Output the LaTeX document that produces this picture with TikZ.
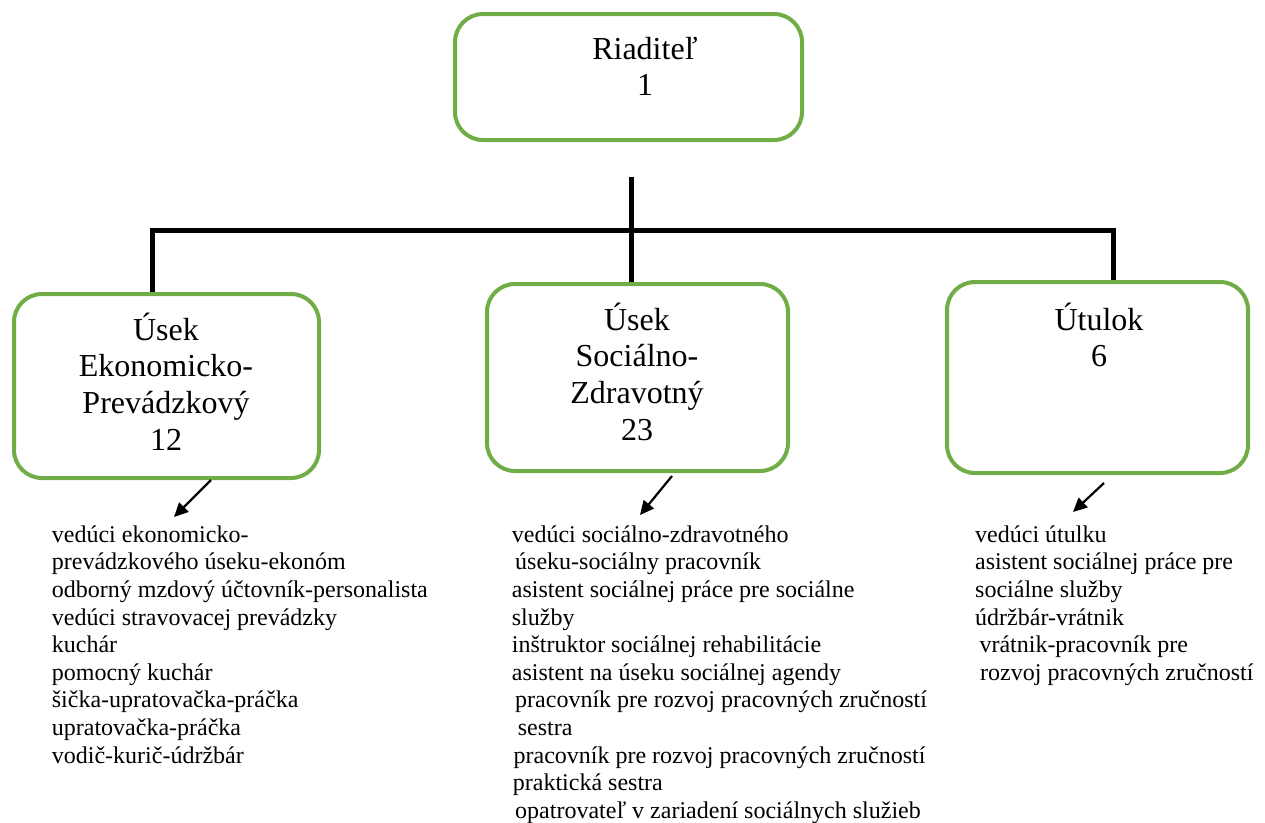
\documentclass[tikz,border=0pt]{standalone}
\usepackage{fontspec}
\setmainfont{Liberation Serif}
\usetikzlibrary{arrows.meta}
\definecolor{boxgreen}{RGB}{112,173,71}
\tikzset{
  orgbox/.style={draw=boxgreen, line width=4pt, rounded corners=28pt, inner sep=0pt, fill=none},
  boxtext/.style={anchor=north, inner sep=0pt, align=center, font=\fontsize{32}{36.7}\selectfont},
  listtext/.style={anchor=north west, inner sep=0pt, align=left, font=\fontsize{24}{27.6}\selectfont},
  bar/.style={line width=5pt, black, line join=miter},
  pointer/.style={line width=2.2pt, black, -{Triangle[length=14pt,width=13pt]}}
}
\begin{document}
\begin{tikzpicture}[x=1pt,y=-1pt]
\useasboundingbox (0,0) rectangle (1265,822);
% boxes
\node[orgbox, minimum width=347pt, minimum height=126pt] (dir) at (628.5,77) {};
\node[orgbox, minimum width=305pt, minimum height=184pt] (eko) at (166.5,386) {};
\node[orgbox, minimum width=301pt, minimum height=187pt] (soc) at (637.5,377.5) {};
\node[orgbox, minimum width=301pt, minimum height=191pt] (utu) at (1097.5,377.5) {};
% box texts
\node[boxtext] (dirt) at (645,27) {\rule{0pt}{32pt}Riaditeľ\\1};
\node[boxtext] (ekot) at (166,308) {\rule{0pt}{32pt}Úsek\\Ekonomicko-\\Prevádzkový\\12};
\node[boxtext] (soct) at (637,298) {\rule{0pt}{32pt}Úsek\\Sociálno-\\Zdravotný\\23};
\node[boxtext] (utut) at (1099,298) {\rule{0pt}{32pt}Útulok\\6};
% connectors
\coordinate (trunk) at (631,177);
\coordinate (hl) at (152,230);
\coordinate (hr) at (1113,230);
\draw[bar] (trunk) -- (trunk |- soc.north);
\draw[bar] (hl |- eko.north) -- (hl) -- (hr) -- (hr |- utu.north);
% lists
\node[listtext] (ekol) at (51.7,518) {\rule{0pt}{24pt}vedúci ekonomicko-\\
prevádzkového úseku-ekonóm\\
odborný mzdový účtovník-personalista\\
vedúci stravovacej prevádzky\\
kuchár\\
pomocný kuchár\\
šička-upratovačka-práčka\\
upratovačka-práčka\\
vodič-kurič-údržbár};
\node[listtext] (socl) at (511.7,518) {\rule{0pt}{24pt}vedúci sociálno-zdravotného\\
\hspace*{3.3pt}úseku-sociálny pracovník\\
asistent sociálnej práce pre sociálne\\
služby\\
inštruktor sociálnej rehabilitácie\\
asistent na úseku sociálnej agendy\\
\hspace*{3.3pt}pracovník pre rozvoj pracovných zručností\\
\hspace*{6pt}sestra\\
\hspace*{1.7pt}pracovník pre rozvoj pracovných zručností\\
\hspace*{1pt}praktická sestra\\
\hspace*{3.3pt}opatrovateľ v zariadení sociálnych služieb};
\node[listtext] (utul) at (975,518) {\rule{0pt}{24pt}vedúci útulku\\
asistent sociálnej práce pre\\
sociálne služby\\
údržbár-vrátnik\\
\hspace*{4.3pt}vrátnik-pracovník pre\\
\hspace*{5pt}rozvoj pracovných zručností};
% arrows
\coordinate (a1s) at (211,480);
\coordinate (a1e) at (174,517);
\coordinate (a2s) at (672,476);
\coordinate (a2e) at (640,515);
\coordinate (a3s) at (1104,483);
\coordinate (a3e) at (1073,512);
\draw[pointer] (a1s) -- (a1e);
\draw[pointer] (a2s) -- (a2e);
\draw[pointer] (a3s) -- (a3e);
\end{tikzpicture}
\end{document}
